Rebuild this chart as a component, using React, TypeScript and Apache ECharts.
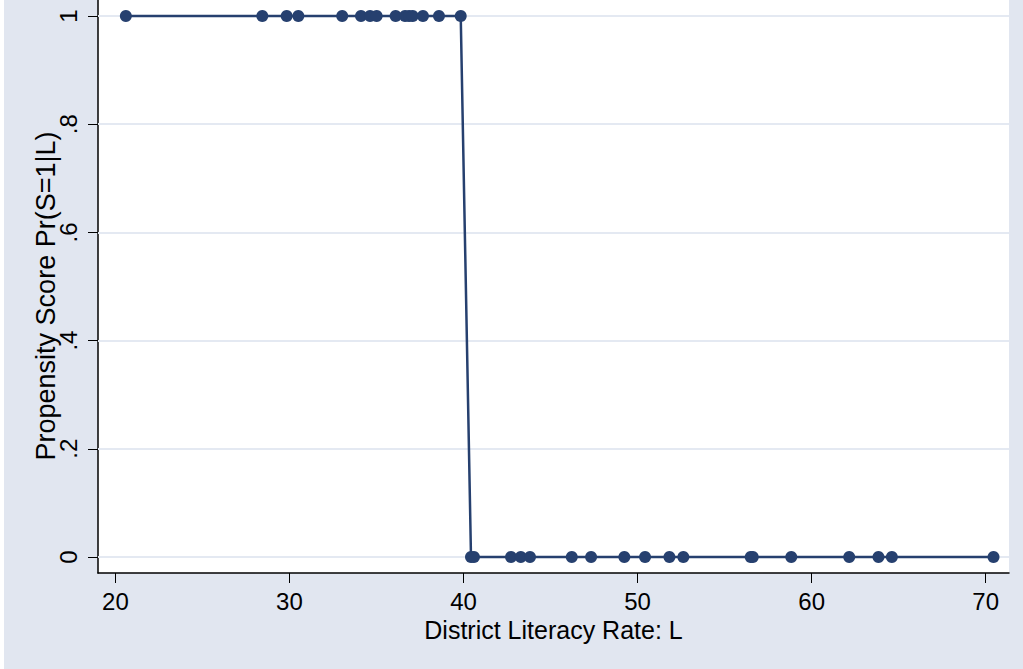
import React, { useEffect, useRef } from "react";
import * as echarts from "echarts";

const literacyRate = [
  20.6, 28.44, 29.84, 30.51, 33.03, 34.11, 34.63, 35.01, 36.1, 36.64, 36.87, 37.08, 37.67, 38.59, 39.84,
  40.43, 40.6, 42.73, 43.29, 43.82, 46.22, 47.33, 49.24, 50.43, 51.83, 52.63, 56.5, 56.62, 58.83, 62.16,
  63.84, 64.61, 70.45,
];
const propensityScore = [
  1, 1, 1, 1, 1, 1, 1, 1, 1, 1, 1, 1, 1, 1, 1,
  0, 0, 0, 0, 0, 0, 0, 0, 0, 0, 0, 0, 0, 0, 0,
  0, 0, 0,
];
const xTicks = [20, 30, 40, 50, 60, 70];
const yTicks = [0, 0.2, 0.4, 0.6, 0.8, 1];

const xTitle = "District Literacy Rate: L";
const yTitle = "Propensity Score Pr(S=1|L)";

const FONT = "'Liberation Sans', Arial, Helvetica, sans-serif";
const NAVY = "#26406F";

export default function App() {
  const ref = useRef<HTMLDivElement>(null);
  useEffect(() => {
    document.body.style.margin = "0";
    const chart = echarts.init(ref.current!, null, { renderer: "svg" });
    const pts = literacyRate.map((x, i) => [x, propensityScore[i]]);
    chart.setOption({
      animation: false,
      backgroundColor: "#E1E6F0",
      grid: {
        left: 94,
        right: 14,
        top: 0,
        bottom: 96,
        show: true,
        backgroundColor: "#ffffff",
        borderWidth: 0,
      },
      xAxis: {
        type: "value",
        min: 19.0,
        max: 71.34,
        name: xTitle,
        nameLocation: "middle",
        nameGap: 42,
        nameTextStyle: { fontSize: 25, color: "#000", fontFamily: FONT },
        axisLine: { show: true, onZero: false, lineStyle: { color: "#000", width: 1.5 } },
        axisTick: { show: true, customValues: xTicks, length: 10, lineStyle: { color: "#000", width: 1 } },
        axisLabel: { customValues: xTicks, fontSize: 24, color: "#000", fontFamily: FONT, margin: 16 },
        splitLine: { show: false },
      },
      yAxis: {
        type: "value",
        min: -0.0296,
        max: 1.0296,
        axisLine: { show: true, onZero: false, lineStyle: { color: "#000", width: 1.5 } },
        axisTick: { show: true, customValues: yTicks, length: 10, lineStyle: { color: "#000", width: 1 } },
        axisLabel: {
          customValues: yTicks,
          rotate: 90,
          fontSize: 24,
          color: "#000",
          fontFamily: FONT,
          margin: 18,
          formatter: (v: number) => (v === 0 ? "0" : v === 1 ? "1" : String(Math.round(v * 10) / 10).replace(/^0/, "")),
        },
        splitLine: { show: false },
      },
      graphic: [
        {
          type: "text",
          x: 42,
          y: 296,
          rotation: Math.PI / 2,
          style: {
            text: yTitle,
            font: `27px ${FONT}`,
            fill: "#000",
            align: "center",
            verticalAlign: "middle",
          },
        },
      ],
      series: [
        {
          type: "line",
          data: [],
          z: 1,
          silent: true,
          markLine: {
            z: 1,
            silent: true,
            symbol: ["none", "none"],
            label: { show: false },
            lineStyle: { color: "#E4E9F2", width: 2, type: "solid" },
            data: yTicks.map((v) => ({ yAxis: v })),
          },
        },
        {
          type: "line",
          z: 3,
          data: pts,
          symbol: "circle",
          symbolSize: 12,
          lineStyle: { color: NAVY, width: 2.5 },
          itemStyle: { color: NAVY },
        },
      ],
    });
    return () => chart.dispose();
  }, []);
  return (
    <div style={{ position: "fixed", left: 0, top: 0, width: 1023, height: 669, background: "#fff" }}>
      <div ref={ref} style={{ position: "absolute", left: 4, top: 0, width: 1019, height: 669 }} />
    </div>
  );
}
